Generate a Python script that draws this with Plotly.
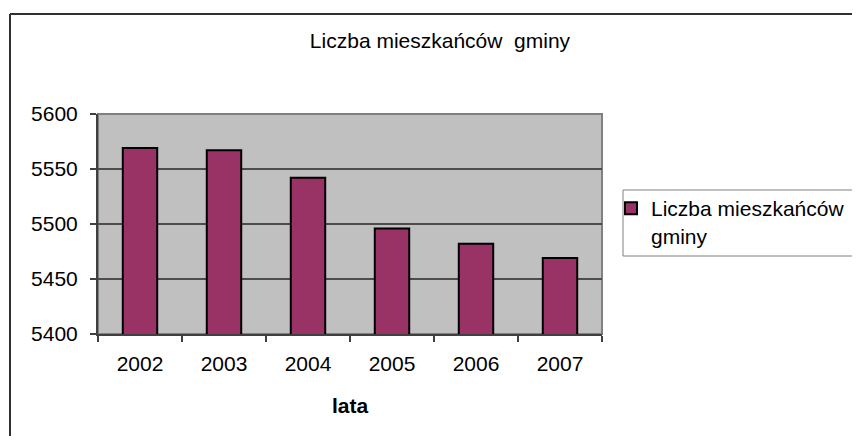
import plotly.graph_objects as go

# population of the commune by year
years = ["2002", "2003", "2004", "2005", "2006", "2007"]
residents = [5569, 5567, 5542, 5496, 5482, 5469]
y_ticks = [5400, 5450, 5500, 5550, 5600]

series_name = "Liczba mieszkańców<br>gminy"
chart_title = "Liczba mieszkańców  gminy"
x_title = "lata"

FONT = "Liberation Sans, Arial, sans-serif"
OFF = 8  # page body margin of the html output
W, H = 860 - 2 * OFF, 444 - 2 * OFF  # keep the page free of scrollbars
L, T = 98 - OFF, 114 - OFF
PW, PH = 504, 220
R, B = W - L - PW, H - T - PH


def px_x(x):
    # page pixel -> paper x
    return (x - OFF - L) / PW


def px_y(y):
    # page pixel -> paper y
    return 1 - (y - OFF - T) / PH


def seg(x0, y0, x1, y1, color, width):
    return dict(type="line", xref="paper", yref="paper",
                x0=px_x(x0), y0=px_y(y0), x1=px_x(x1), y1=px_y(y1),
                line=dict(color=color, width=width))


fig = go.Figure()
fig.add_trace(go.Bar(
    x=years, y=residents,
    name=series_name,
    marker=dict(color="#993366", line=dict(color="#000000", width=2)),
    showlegend=True,
))

fig.update_layout(
    width=W, height=H,
    margin=dict(l=L, r=R, t=T, b=B, autoexpand=False),
    paper_bgcolor="#ffffff",
    plot_bgcolor="#c0c0c0",
    font=dict(family=FONT, size=21, color="#000000"),
    bargap=0.59,
    title=dict(
        text=chart_title,
        x=(440 - OFF) / W, xref="container", xanchor="center",
        y=1 - (41 - OFF) / H, yref="container", yanchor="middle",
        font=dict(family=FONT, size=21, color="#000000"),
    ),
    legend=dict(
        xref="container", yref="container",
        x=(611 - OFF) / W, xanchor="left",
        y=1 - (188 - OFF) / H, yanchor="top",
        bgcolor="rgba(0,0,0,0)",
        borderwidth=0,
        valign="top",
        font=dict(family=FONT, size=21, color="#000000"),
    ),
    xaxis=dict(
        type="category",
        showgrid=False,
        showline=True, linecolor="#404040", linewidth=2,
        ticks="outside", tickson="boundaries", ticklen=6,
        tickcolor="#404040", tickwidth=1.5,
        ticklabelstandoff=10,
        title=dict(text="<b>" + x_title + "</b>", standoff=24,
                   font=dict(family=FONT, size=21)),
    ),
    yaxis=dict(
        range=[5400, 5600],
        tickvals=y_ticks,
        showgrid=True, gridcolor="#4d4d4d", gridwidth=1.5,
        showline=True, linecolor="#404040", linewidth=2,
        ticks="outside", ticklen=6, tickcolor="#404040", tickwidth=1.5,
        ticklabelstandoff=8,
        zeroline=False,
    ),
    shapes=[
        # plot area frame (grey top and right edges)
        dict(type="rect", xref="paper", yref="paper", x0=0, y0=0, x1=1, y1=1,
             line=dict(color="#808080", width=2), layer="below"),
        # outer chart frame: only top and left edges are in the picture
        seg(10, 14, 860, 14, "#303030", 2),
        seg(10, 14, 10, 444, "#303030", 2),
        # legend box, open on the right where the picture cuts it
        seg(623, 190, 860, 190, "#808080", 1),
        seg(623, 256, 860, 256, "#808080", 1),
        seg(623, 190, 623, 256, "#808080", 1),
    ],
)

fig.write_html("out.html")
